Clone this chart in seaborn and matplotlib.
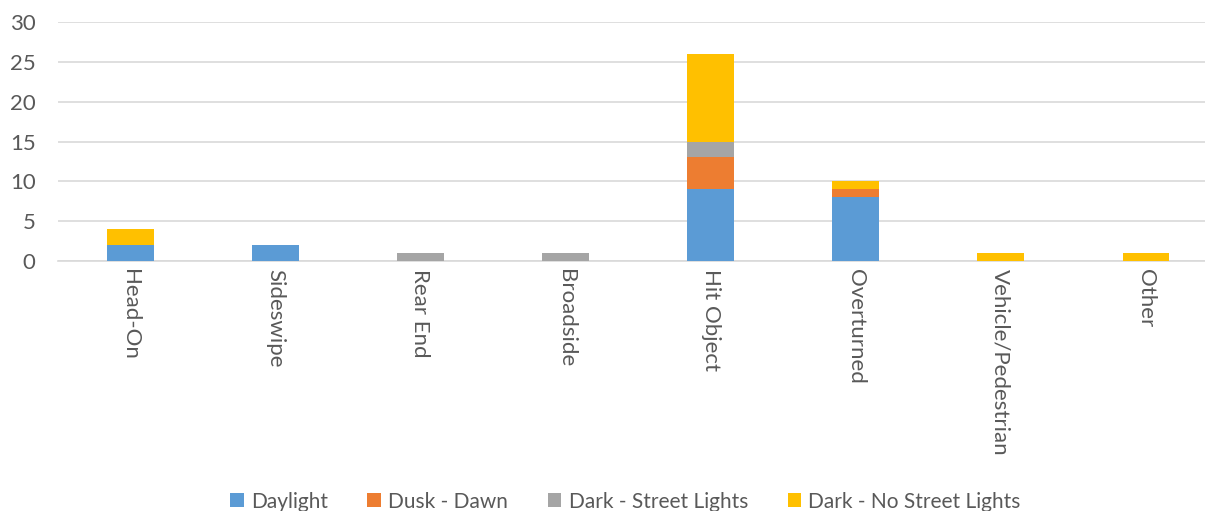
import numpy as np
import pandas as pd
import matplotlib
matplotlib.use("Agg")
import matplotlib.pyplot as plt
from matplotlib.patches import Patch
import seaborn as sns

categories = ["Head-On", "Sideswipe", "Rear End", "Broadside", "Hit Object",
              "Overturned", "Vehicle/Pedestrian", "Other"]
daylight = [2, 2, 0, 0, 9, 8, 0, 0]
dusk_dawn = [0, 0, 0, 0, 4, 1, 0, 0]
dark_street_lights = [0, 0, 1, 1, 2, 0, 0, 0]
dark_no_street_lights = [2, 0, 0, 0, 11, 1, 1, 1]

series_names = ["Daylight", "Dusk - Dawn", "Dark - Street Lights", "Dark - No Street Lights"]
series_values = [daylight, dusk_dawn, dark_street_lights, dark_no_street_lights]
colors = ["#5B9BD5", "#ED7D31", "#A5A5A5", "#FFC000"]

sns.set_theme(style="white")
plt.rcParams["font.family"] = ["Lato", "DejaVu Sans"]
text_color = "#595959"

fig = plt.figure(figsize=(12.05, 5.11), dpi=100)
ax = fig.add_axes([0.048, 0.489, 0.963, 0.468])

# stacked bars: draw cumulative totals from the top segment down
cum = np.cumsum(np.array(series_values, dtype=float), axis=0)
for i in range(len(series_names) - 1, -1, -1):
    df = pd.DataFrame({"category": categories, "value": cum[i]})
    sns.barplot(data=df, x="category", y="value", color=colors[i],
                width=0.32, saturation=1, ax=ax, zorder=3, linewidth=0)

ax.set_ylim(0, 30)
ax.set_yticks(range(0, 31, 5))
ax.set_xlim(-0.5, len(categories) - 0.5)
ax.yaxis.grid(True, color="#D9D9D9", linewidth=1.2, zorder=0)
ax.set_axisbelow(True)
for s in ["top", "right", "left"]:
    ax.spines[s].set_visible(False)
ax.spines["bottom"].set_color("#D9D9D9")
ax.spines["bottom"].set_linewidth(1.2)
ax.set_xlabel("")
ax.set_ylabel("")
ax.tick_params(axis="both", length=0, colors=text_color)
ax.tick_params(axis="y", pad=16, labelsize=16)
ax.tick_params(axis="x", pad=6, labelsize=16)
ax.set_xticks(range(len(categories)))
ax.set_xticklabels(categories, rotation=270, va="top", ha="center", color=text_color)

handles = [Patch(facecolor=c, edgecolor="none") for c in colors]
fig.legend(handles, series_names, loc="lower center", bbox_to_anchor=(0.519, -0.038),
           ncol=4, frameon=False, fontsize=15, handlelength=0.65, handleheight=0.65,
           columnspacing=1.9, handletextpad=0.35, labelcolor=text_color)

fig.savefig("out.png", dpi=100, facecolor="white")
